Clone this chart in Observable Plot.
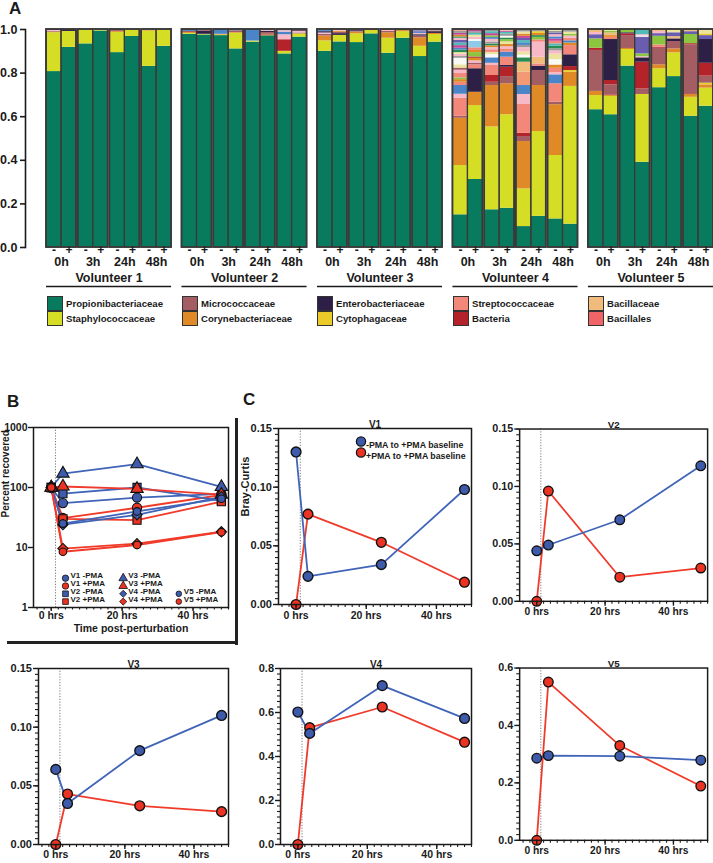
<!DOCTYPE html>
<html>
<head>
<meta charset="utf-8">
<script src="https://cdn.jsdelivr.net/npm/d3@7"></script>
<script src="https://cdn.jsdelivr.net/npm/@observablehq/plot@0.6"></script>
<style>
html,body{margin:0;padding:0;background:#fff;overflow:hidden;}
#root{position:relative;width:713px;height:863px;overflow:hidden;font-family:"Liberation Sans",Arial,Helvetica,sans-serif;font-weight:bold;color:#1a1a1a;}
.abs{position:absolute;}
.letter{position:absolute;font-size:17px;line-height:17px;font-weight:bold;}
.sw{position:absolute;width:16px;height:15px;box-sizing:border-box;border:1px solid #333;}
.lt{position:absolute;font-size:9.6px;line-height:15px;white-space:nowrap;}
.bar{position:absolute;background:#222;}
</style>
</head>
<body>
<div id="root"></div>
<script>
// ---------------- DATA ----------------
// Panel A: named taxa (legend) and extra unnamed taxa
const taxaNames = ["Propionibacteriaceae","Staphylococcaceae","Micrococcaceae","Corynebacteriaceae","Enterobacteriaceae","Cytophagaceae","Streptococcaceae","Bacteria","Bacillaceae","Bacillales"];
const taxaCodes = ["P","S","M","C","E","Y","T","B","A","L"];
const taxaColors = ["#087a5e","#d5de24","#a45d62","#df8a26","#2d1f46","#eacb2a","#f3877a","#b4222a","#f0bb7b","#ef6467"];
const otherCodes = ["b","k","g","s","w","c","r","m","y","d","l","o"];
const otherColors = ["#4a85c9","#f7b8c8","#8cc540","#6a5db0","#f8f8f4","#ece3a0","#9a9a9a","#c4479c","#4fbcb8","#2a8c55","#8fcbe8","#f39a74"];

const volunteers = ["Volunteer 1","Volunteer 2","Volunteer 3","Volunteer 4","Volunteer 5"];
const timepoints = ["0h","3h","24h","48h"];
const treatments = ["-","+"];

// each volunteer: 8 bars (0h-,0h+,3h-,3h+,24h-,24h+,48h-,48h+), segments bottom->top
const volunteer1 = [
 [["P",.807],["S",.178],["C",.003],["M",.004],["k",.004],["E",.004]],
 [["P",.918],["S",.073],["E",.009]],
 [["P",.934],["S",.063],["C",.003]],
 [["P",.993],["S",.007]],
 [["P",.894],["S",.093],["C",.004],["M",.004],["E",.005]],
 [["P",.968],["S",.032]],
 [["P",.831],["S",.162],["C",.004],["k",.003]],
 [["P",.923],["S",.074],["C",.003]]
];
const volunteer2 = [
 [["P",.978],["S",.004],["C",.004],["M",.005],["b",.004],["E",.005]],
 [["P",.975],["S",.003],["E",.015],["M",.004],["k",.003]],
 [["P",.972],["S",.003],["C",.003],["b",.022]],
 [["P",.911],["S",.072],["C",.003],["M",.008],["b",.006]],
 [["P",.942],["S",.005],["b",.053]],
 [["P",.971],["C",.004],["B",.003],["M",.008],["E",.006],["k",.004],["r",.004]],
 [["P",.888],["S",.012],["B",.053],["k",.023],["b",.012],["k",.006],["r",.006]],
 [["P",.965],["S",.015],["M",.004],["k",.008],["E",.004],["r",.004]]
];
const volunteer3 = [
 [["P",.900],["S",.048],["C",.022],["M",.008],["k",.006],["E",.006],["b",.005],["r",.005]],
 [["P",.943],["S",.030],["E",.008],["M",.006],["C",.005],["k",.004],["r",.004]],
 [["P",.940],["S",.040],["C",.008],["M",.004],["E",.004],["k",.004]],
 [["P",.980],["S",.015],["C",.005]],
 [["P",.891],["S",.069],["C",.025],["M",.006],["k",.005],["E",.004]],
 [["P",.960],["S",.030],["C",.005],["M",.005]],
 [["P",.876],["S",.047],["C",.039],["M",.008],["E",.006],["k",.006],["b",.006],["s",.006],["r",.006]],
 [["P",.942],["S",.035],["C",.005],["E",.008],["M",.004],["k",.003],["r",.003]]
];
const volunteer4 = [
 [["P",.150],["S",.226],["C",.217],["M",.009],["T",.083],["k",.018],["b",.040],["T",.015],["C",.012],["g",.008],["T",.020],["k",.015],["M",.010],["c",.015],["w",.030],["r",.008],["k",.010],["c",.008],["d",.012],["b",.008],["m",.012],["y",.012],["s",.012],["k",.010],["d",.006],["C",.008],["m",.008],["r",.010],["o",.008]],
 [["P",.312],["S",.339],["C",.061],["E",.108],["T",.018],["M",.008],["k",.010],["C",.012],["B",.006],["g",.020],["C",.010],["T",.012],["l",.030],["w",.008],["k",.010],["c",.010],["y",.008],["r",.008],["m",.010]],
 [["P",.173],["S",.380],["C",.190],["M",.015],["B",.031],["T",.046],["k",.010],["b",.025],["w",.015],["c",.010],["T",.012],["k",.010],["C",.008],["d",.008],["r",.010],["k",.012],["b",.008],["g",.008],["m",.010],["y",.009],["r",.010]],
 [["P",.180],["S",.429],["C",.142],["M",.033],["B",.043],["E",.008],["T",.038],["b",.023],["T",.015],["k",.010],["C",.010],["c",.012],["g",.010],["d",.008],["w",.008],["r",.010],["y",.008],["m",.006],["c",.007]],
 [["P",.096],["S",.173],["C",.217],["M",.023],["B",.015],["T",.132],["k",.046],["b",.041],["o",.061],["A",.046],["d",.020],["w",.012],["c",.015],["k",.020],["r",.010],["b",.012],["y",.010],["s",.010],["m",.010],["C",.010],["c",.010],["r",.011]],
 [["P",.143],["S",.389],["C",.211],["M",.069],["E",.020],["T",.010],["A",.031],["k",.069],["T",.010],["g",.012],["d",.008],["C",.010],["Y",.008],["r",.010]],
 [["P",.131],["S",.291],["C",.233],["M",.012],["T",.084],["b",.041],["k",.010],["T",.020],["C",.015],["w",.025],["c",.025],["k",.015],["r",.010],["d",.012],["y",.010],["T",.012],["m",.010],["b",.010],["k",.010],["s",.008],["r",.008],["c",.008]],
 [["P",.107],["S",.632],["C",.065],["Y",.008],["B",.018],["E",.054],["T",.042],["C",.012],["b",.010],["T",.012],["k",.010],["g",.008],["c",.010],["r",.012]]
];
const volunteer5 = [
 [["P",.632],["S",.065],["C",.019],["M",.188],["B",.010],["g",.043],["s",.019],["k",.010],["A",.014]],
 [["P",.609],["S",.084],["C",.005],["M",.048],["B",.020],["E",.188],["T",.010],["C",.008],["A",.012],["g",.008],["c",.008]],
 [["P",.832],["S",.076],["C",.005],["M",.059],["B",.008],["E",.005],["g",.015]],
 [["P",.391],["S",.311],["M",.025],["B",.123],["E",.020],["k",.005],["g",.013],["s",.077],["w",.005],["k",.006],["y",.024]],
 [["P",.733],["S",.087],["C",.018],["M",.076],["B",.005],["T",.010],["g",.040],["s",.012],["k",.010],["A",.009]],
 [["P",.784],["S",.109],["C",.018],["M",.034],["E",.012],["A",.010],["s",.018],["c",.015]],
 [["P",.602],["S",.087],["C",.013],["M",.228],["B",.005],["g",.042],["s",.013],["A",.010]],
 [["P",.648],["S",.083],["C",.015],["Y",.008],["M",.032],["B",.059],["E",.109],["s",.018],["Y",.008],["c",.020]]
];
const yTicksA = [0, 0.2, 0.4, 0.6, 0.8, 1.0];

// Panel B: percent recovered
const bHours = [0, 3.3, 24.2, 48];
const bLabels = ["V1 -PMA","V1 +PMA","V2 -PMA","V2 +PMA","V3 -PMA","V3 +PMA","V4 -PMA","V4 +PMA","V5 -PMA","V5 +PMA"];
const bValues = [
 [100, 55, 68, 78],
 [100, 31, 46, 75],
 [100, 79, 100, 60],
 [100, 30, 28.5, 58],
 [100, 171, 245, 102],
 [100, 104, 95, 76],
 [100, 24, 35, 70],
 [100, 9.6, 11.6, 18.3],
 [100, 25, 40, 65],
 [100, 8.5, 11, 18]
];
const bYTicks = [1, 10, 100, 1000];

// Panel C: Bray-Curtis
const cHours = [0, 3.4, 24.3, 48];
const cSeries = ["-PMA to +PMA baseline", "+PMA to +PMA baseline"];
const cPanels = ["V1","V2","V3","V4","V5"];
const cMinusPMA = [
 [0.130, 0.024, 0.034, 0.098],
 [0.044, 0.049, 0.071, 0.118],
 [0.064, 0.035, 0.080, 0.110],
 [0.602, 0.505, 0.722, 0.573],
 [0.286, 0.295, 0.293, 0.279]
];
const cPlusPMA = [
 [0, 0.077, 0.053, 0.019],
 [0, 0.096, 0.021, 0.029],
 [0, 0.043, 0.033, 0.028],
 [0, 0.531, 0.625, 0.465],
 [0, 0.551, 0.330, 0.189]
];
const timeTicks = [0, 20, 40];

// ---------------- LAYOUT / DRAW ----------------
const BLUE = "#3e5bab", RED = "#ea3323";
const BLUE_LINE = "#4064b8", RED_LINE = "#f03a2a";
const root = document.getElementById("root");
const FONT = '"Liberation Sans", Arial, Helvetica, sans-serif';
const baseStyle = {fontFamily: FONT, fontWeight: "bold", fontSize: "11px", color: "#1a1a1a", background: "transparent", overflow: "visible"};

function place(node, left, top) {
  const d = document.createElement("div");
  d.className = "abs";
  d.style.left = left + "px";
  d.style.top = top + "px";
  d.appendChild(node);
  root.appendChild(d);
}
function addEl(cls, text, left, top, extra) {
  const d = document.createElement("div");
  d.className = cls;
  if (text) d.textContent = text;
  d.style.left = left + "px";
  d.style.top = top + "px";
  if (extra) Object.assign(d.style, extra);
  root.appendChild(d);
  return d;
}

// ----- Panel A -----
const PAIR_GAP = 0.113, VOL_GAP = 0.693;
const allBars = [volunteer1, volunteer2, volunteer3, volunteer4, volunteer5];
const barList = [], segList = [], pairList = [], groupList = [];
allBars.forEach((vb, vi) => {
  const vStart = vi * (8 + 3 * PAIR_GAP + VOL_GAP);
  groupList.push({vol: volunteers[vi], x1: vStart, x2: vStart + 8 + 3 * PAIR_GAP});
  vb.forEach((segs, bi) => {
    const ti = Math.floor(bi / 2), si = bi % 2;
    const x1 = vStart + ti * (2 + PAIR_GAP) + si;
    const bar = {vol: volunteers[vi], time: timepoints[ti], sign: treatments[si], x1, x2: x1 + 1};
    barList.push(bar);
    if (si === 0) pairList.push({vol: volunteers[vi], time: timepoints[ti], x1, x2: x1 + 2});
    let acc = 0;
    for (const [code, v] of segs) {
      segList.push({code, x1: bar.x1, x2: bar.x2, y1: acc, y2: Math.min(1, acc + v)});
      acc += v;
    }
  });
});
const xTotalA = 5 * (8 + 3 * PAIR_GAP) + 4 * VOL_GAP;
const mid = d => (d.x1 + d.x2) / 2;

const plotA = Plot.plot({
  width: 713, height: 292,
  marginLeft: 25, marginRight: 0, marginTop: 29, marginBottom: 45,
  style: {...baseStyle, fontSize: "12px"},
  x: {domain: [0, xTotalA], range: [46, 713], axis: null, label: null},
  y: {domain: [0, 1], label: null},
  color: {domain: [...taxaCodes, ...otherCodes], range: [...taxaColors, ...otherColors]},
  marks: [
    Plot.rect(segList, {x1: "x1", x2: "x2", y1: "y1", y2: "y2", fill: "code"}),
    Plot.rect(barList, {x1: "x1", x2: "x2", y1: 0, y2: 1, fill: "none", stroke: "#3a3a3a", strokeWidth: 1.2}),
    Plot.rect(pairList, {x1: "x1", x2: "x2", y1: 0, y2: 1, fill: "none", stroke: "#3a3a3a", strokeWidth: 1.8}),
    Plot.frame({anchor: "left", stroke: "#1a1a1a", strokeWidth: 1.6}),
    Plot.axisY({ticks: yTicksA, tickFormat: d3.format(".1f"), tickSize: 5, tickPadding: 3, strokeWidth: 1.6, fontSize: 12.5, label: null}),
    Plot.text(barList, {x: mid, text: "sign", frameAnchor: "bottom", dy: 6, fontSize: 12}),
    Plot.text(pairList, {x: mid, text: "time", frameAnchor: "bottom", dy: 18.5, fontSize: 12.5}),
    Plot.text(groupList, {x: mid, text: "vol", frameAnchor: "bottom", dy: 34, fontSize: 12.5}),
    Plot.ruleY(groupList, {x1: "x1", x2: "x2", y: 0, dy: 39, stroke: "#1a1a1a", strokeWidth: 1.5})
  ]
});
place(plotA, 0, 0);

// Panel A legend (5 columns x 2 rows, aligned to volunteer groups)
const legendCols = [47, 182, 317, 453, 588];
const legendRows = [296, 311];
taxaNames.forEach((name, i) => {
  const c = Math.floor(i / 2), r = i % 2;
  addEl("sw", "", legendCols[c], legendRows[r], {background: taxaColors[i]});
  addEl("lt", name, legendCols[c] + 19, legendRows[r]);
});

// ----- Panel B -----
const bRows = [];
bLabels.forEach((lab, i) => {
  bValues[i].forEach((v, j) => bRows.push({series: lab, vol: lab.slice(0, 2), trt: lab.slice(3), hour: bHours[j], value: v}));
});
const symbolDomain = ["V1","V2","V3","V4","V5"];
const symbolRange = ["circle","square","triangle","diamond2","circle"];
const bLegendSlots = [[0,0],[0,1],[0,2],[0,3],[1,0],[1,1],[1,2],[1,3],[2,2],[2,3]];
const bLegendColDx = [32, 89.7, 145.3];
const bLegendRowDy = [-29.3, -21.5, -13.7, -5.9];
const bLegendMarks = bLabels.flatMap((lab, i) => {
  const [c, r] = bLegendSlots[i];
  const sym = symbolRange[symbolDomain.indexOf(lab.slice(0, 2))];
  const col = lab.includes("-PMA") ? BLUE : RED;
  return [
    Plot.dot([lab], {frameAnchor: "bottom-left", dx: bLegendColDx[c], dy: bLegendRowDy[r], symbol: sym, fill: col, stroke: "#111", strokeWidth: 0.8, r: lab.startsWith("V5") ? 2.8 : 3.2}),
    Plot.text([lab], {frameAnchor: "bottom-left", dx: bLegendColDx[c] + 5, dy: bLegendRowDy[r], text: d => d, textAnchor: "start", fontSize: 8})
  ];
});
const plotB = Plot.plot({
  width: 237, height: 222,
  marginLeft: 33, marginRight: 9, marginTop: 7, marginBottom: 35,
  style: baseStyle,
  x: {domain: [-5, 50], label: null},
  y: {type: "log", domain: [1, 1000], label: null},
  color: {domain: ["-PMA", "+PMA"], range: [BLUE_LINE, RED_LINE]},
  symbol: {domain: symbolDomain, range: symbolRange},
  marks: [
    Plot.ruleX([1.2], {stroke: "#555", strokeWidth: 0.8, strokeDasharray: "1.2,1.6"}),
    Plot.line(bRows, {x: "hour", y: "value", z: "series", stroke: "trt", strokeWidth: 1.8}),
    Plot.dot(bRows.filter(d => d.vol !== "V5"), {x: "hour", y: "value", symbol: "vol", fill: d => d.trt === "-PMA" ? BLUE : RED, stroke: "#111", strokeWidth: 1.1, r: 4.6}),
    Plot.dot(bRows.filter(d => d.vol === "V5"), {x: "hour", y: "value", symbol: "vol", fill: d => d.trt === "-PMA" ? BLUE : RED, stroke: "#111", strokeWidth: 1.1, r: 3.8}),
    Plot.frame({stroke: "#1a1a1a", strokeWidth: 1.5}),
    Plot.axisY({ticks: bYTicks, tickFormat: d => String(d), tickSize: 5, tickPadding: 1, fontSize: 10.5, strokeWidth: 1.4, label: null}),
    Plot.axisX({ticks: timeTicks, tickFormat: d => `${d} hrs`, tickSize: 4, tickPadding: 0.5, fontSize: 10.5, strokeWidth: 1.4, label: null}),
    Plot.axisX({ticks: d3.range(-4, 51, 2), tickSize: 2.5, fill: "none", strokeWidth: 1.1, label: null}),
    Plot.text(["Time post-perturbation"], {frameAnchor: "bottom", dy: 24.5, text: d => d, fontSize: 10.5}),
    Plot.text(["Percent recovered"], {frameAnchor: "left", dx: -27.5, rotate: -90, text: d => d, fontSize: 10}),
    ...bLegendMarks
  ]
});
place(plotB, 0, 420);
// thick box edges around panel B
addEl("bar", "", 235, 418, {width: "3px", height: "227px"});
addEl("bar", "", 7, 641, {width: "231px", height: "3px"});

// ----- Panel C -----
const cLayout = [
  {left: 278, top: 428, w: 193, yMax: 0.15, major: [0, 0.05, 0.10, 0.15], minorStep: 0.005, fmt: ".2f", legend: true, ylabel: true, pad: 2},
  {left: 520, top: 429, w: 192, yMax: 0.15, major: [0, 0.05, 0.10, 0.15], minorStep: 0.005, fmt: ".2f", pad: 2},
  {left: 38, top: 668, w: 190, yMax: 0.15, major: [0, 0.05, 0.10, 0.15], minorStep: 0.005, fmt: ".2f", pad: 1},
  {left: 280, top: 668, w: 191, yMax: 0.8, major: [0, 0.2, 0.4, 0.6, 0.8], minorStep: 0.025, fmt: ".1f", pad: 1},
  {left: 520, top: 668, w: 192, yMax: 0.6, major: [0, 0.2, 0.4, 0.6], minorStep: 0.02, fmt: ".1f", pad: 1}
];
const C_ML = 40, C_MT = 22, C_FH = 176, C_MB = 26;
cPanels.forEach((name, i) => {
  const L = cLayout[i];
  const rows = [];
  cPlusPMA[i].forEach((v, j) => rows.push({series: cSeries[1], hour: cHours[j], value: v}));
  cMinusPMA[i].forEach((v, j) => rows.push({series: cSeries[0], hour: cHours[j], value: v}));
  const minor = d3.range(0, L.yMax + 1e-9, L.minorStep);
  const extra = [];
  if (L.legend) {
    cSeries.forEach((s, k) => {
      extra.push(Plot.dot([s], {frameAnchor: "top-right", dx: -110.5, dy: 13 + k * 11, fill: k === 0 ? BLUE : RED, stroke: "#111", strokeWidth: 1.3, r: 4.6}));
      extra.push(Plot.text([s], {frameAnchor: "top-right", dx: -105.5, dy: 13 + k * 11, text: d => d, textAnchor: "start", fontSize: 8.8}));
    });
  }
  if (L.ylabel) {
    extra.push(Plot.text(["Bray-Curtis"], {frameAnchor: "left", dx: -33, rotate: -90, text: d => d, fontSize: 11}));
  }
  const p = Plot.plot({
    width: C_ML + L.w + 6, height: C_MT + C_FH + C_MB,
    marginLeft: C_ML, marginRight: 6, marginTop: C_MT, marginBottom: C_MB,
    style: baseStyle,
    x: {domain: [-5, 50], label: null},
    y: {domain: [0, L.yMax], label: null},
    color: {domain: cSeries, range: [BLUE_LINE, RED_LINE]},
    marks: [
      Plot.ruleX([1.2], {stroke: "#555", strokeWidth: 0.8, strokeDasharray: "1.2,1.6"}),
      Plot.line(rows, {x: "hour", y: "value", z: "series", stroke: "series", strokeWidth: 1.8}),
      Plot.dot(rows, {x: "hour", y: "value", fill: d => d.series === cSeries[0] ? BLUE : RED, stroke: "#111", strokeWidth: 1.4, r: 4.9}),
      Plot.frame({stroke: "#1a1a1a", strokeWidth: 1.5}),
      Plot.axisY({ticks: L.major, tickFormat: d3.format(L.fmt), tickSize: 5, tickPadding: 1.5, fontSize: 11, strokeWidth: 1.4, label: null}),
      Plot.axisY({ticks: minor, tickSize: 3, fill: "none", strokeWidth: 1.1, label: null}),
      Plot.axisX({ticks: timeTicks, tickFormat: d => `${d} hrs`, tickSize: 5, tickPadding: L.pad, fontSize: 10.5, strokeWidth: 1.4, label: null}),
      Plot.axisX({ticks: d3.range(-4, 51, 2), tickSize: 3, fill: "none", strokeWidth: 1.1, label: null}),
      Plot.text([name], {frameAnchor: "top", dy: -8, text: d => d, fontSize: 10}),
      ...extra
    ]
  });
  place(p, L.left - C_ML, L.top - C_MT);
});

// panel letters
addEl("letter", "A", 9, 0);
addEl("letter", "B", 7, 393);
addEl("letter", "C", 243, 391);
</script>
</body>
</html>
